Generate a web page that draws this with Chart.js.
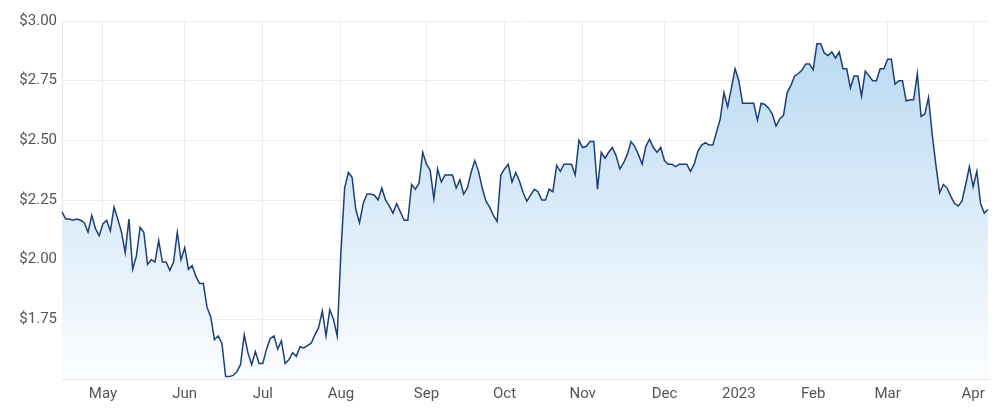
<!DOCTYPE html>
<html>
<head>
<meta charset="utf-8">
<script src="https://cdn.jsdelivr.net/npm/chart.js@4"></script>
<style>
  html, body { margin: 0; padding: 0; background: #fff; }
  #wrap { width: 1000px; height: 415px; }
</style>
</head>
<body>
<div id="wrap"><canvas id="priceChart"></canvas></div>
<script>
// Цена закрытия по торговым дням (апр 2022 - апр 2023)
const prices = [
  2.20, 2.17, 2.17, 2.165, 2.17, 2.165, 2.155, 2.115, 2.185, 2.13,
  2.10, 2.15, 2.165, 2.12, 2.22, 2.17, 2.115, 2.03, 2.17, 1.96,
  2.015, 2.135, 2.115, 1.98, 2.00, 1.99, 2.08, 1.99, 1.99, 1.955,
  1.99, 2.115, 2.00, 2.05, 1.96, 1.975, 1.93, 1.90, 1.90, 1.80,
  1.76, 1.665, 1.68, 1.65, 1.51, 1.51, 1.515, 1.53, 1.56, 1.685,
  1.61, 1.56, 1.615, 1.565, 1.565, 1.625, 1.67, 1.68, 1.625, 1.66,
  1.565, 1.58, 1.61, 1.595, 1.635, 1.63, 1.64, 1.65, 1.685, 1.715,
  1.785, 1.68, 1.79, 1.75, 1.68, 2.03, 2.30, 2.365, 2.345, 2.21,
  2.155, 2.235, 2.275, 2.275, 2.27, 2.25, 2.30, 2.25, 2.225, 2.195,
  2.235, 2.20, 2.165, 2.165, 2.315, 2.295, 2.32, 2.45, 2.40, 2.375,
  2.255, 2.38, 2.325, 2.355, 2.355, 2.355, 2.30, 2.335, 2.275, 2.30,
  2.365, 2.415, 2.37, 2.30, 2.245, 2.22, 2.185, 2.16, 2.355, 2.38,
  2.40, 2.325, 2.365, 2.33, 2.28, 2.245, 2.27, 2.295, 2.285, 2.25,
  2.25, 2.295, 2.285, 2.395, 2.37, 2.40, 2.40, 2.40, 2.355, 2.50,
  2.47, 2.475, 2.495, 2.495, 2.295, 2.45, 2.425, 2.45, 2.47, 2.435,
  2.38, 2.405, 2.44, 2.495, 2.475, 2.44, 2.40, 2.475, 2.505, 2.47,
  2.45, 2.47, 2.415, 2.40, 2.40, 2.39, 2.40, 2.40, 2.40, 2.37,
  2.40, 2.455, 2.48, 2.49, 2.48, 2.48, 2.535, 2.59, 2.70, 2.64,
  2.72, 2.80, 2.75, 2.655, 2.655, 2.655, 2.655, 2.585, 2.655, 2.65,
  2.635, 2.61, 2.56, 2.59, 2.605, 2.70, 2.73, 2.77, 2.78, 2.795,
  2.82, 2.82, 2.795, 2.905, 2.905, 2.865, 2.855, 2.87, 2.845, 2.87,
  2.80, 2.80, 2.72, 2.77, 2.77, 2.685, 2.79, 2.77, 2.75, 2.75,
  2.80, 2.80, 2.84, 2.84, 2.735, 2.75, 2.75, 2.665, 2.67, 2.67,
  2.78, 2.60, 2.61, 2.68, 2.525, 2.395, 2.28, 2.315, 2.30, 2.265,
  2.235, 2.225, 2.245, 2.315, 2.39, 2.305, 2.37, 2.235, 2.195, 2.21
];

// Подписи месяцев и индекс первого торгового дня месяца
const monthNames = ['May', 'Jun', 'Jul', 'Aug', 'Sep', 'Oct', 'Nov', 'Dec', '2023', 'Feb', 'Mar', 'Apr'];
const monthStarts = [11, 33, 54, 75, 98, 119, 140, 162, 182, 202, 222, 245];

// Деления оси Y
const yTicks = [1.75, 2.00, 2.25, 2.50, 2.75, 3.00];

const labels = prices.map(function(p, i) {
    const k = monthStarts.indexOf(i);
    return k >= 0 ? monthNames[k] : '';
});

const ctx = document.getElementById('priceChart').getContext('2d');

function areaGradient(context) {
    const area = context.chart.chartArea;
    if (!area) return 'rgba(200, 225, 245, 0.6)';
    const g = context.chart.ctx.createLinearGradient(0, area.top, 0, area.bottom);
    g.addColorStop(0, 'rgb(182, 215, 241)'); // голубой сверху
    g.addColorStop(1, 'rgb(251, 253, 255)'); // почти белый снизу
    return g;
}

const tickFont = { family: 'Roboto, "Liberation Sans", sans-serif', size: 15 };

new Chart(ctx, {
    type: 'line',
    data: {
        labels: labels,
        datasets: [{
            data: prices,
            borderColor: '#1d3f76',
            borderWidth: 1.5,
            pointRadius: 0,
            tension: 0,
            fill: 'start',
            backgroundColor: areaGradient
        }]
    },
    options: {
        responsive: true,
        maintainAspectRatio: false,
        animation: false,
        layout: { padding: { top: 21, right: 12, bottom: 0, left: 0 } },
        plugins: {
            legend: { display: false },
            tooltip: { enabled: false }
        },
        scales: {
            x: {
                type: 'category',
                offset: false,
                afterBuildTicks: function(scale) {
                    scale.ticks = scale.ticks.filter(t => labels[t.value] !== '');
                },
                afterFit: function(scale) { scale.height = 36; },
                ticks: {
                    autoSkip: false,
                    maxRotation: 0,
                    padding: 6,
                    color: '#555',
                    font: tickFont
                },
                grid: { color: '#ececec', drawTicks: false },
                border: { color: '#e2e2e2' }
            },
            y: {
                min: 1.5,
                max: 3.0,
                afterBuildTicks: function(scale) {
                    scale.ticks = [1.5].concat(yTicks).map(v => ({ value: v }));
                },
                afterFit: function(scale) { scale.width = 62; },
                ticks: {
                    padding: 5,
                    color: '#555',
                    font: tickFont,
                    callback: function(v) { return v < 1.7 ? '' : '$' + v.toFixed(2); }
                },
                grid: { color: '#ececec', drawTicks: false },
                border: { color: '#e6e6e6' }
            }
        }
    }
});
</script>
</body>
</html>
